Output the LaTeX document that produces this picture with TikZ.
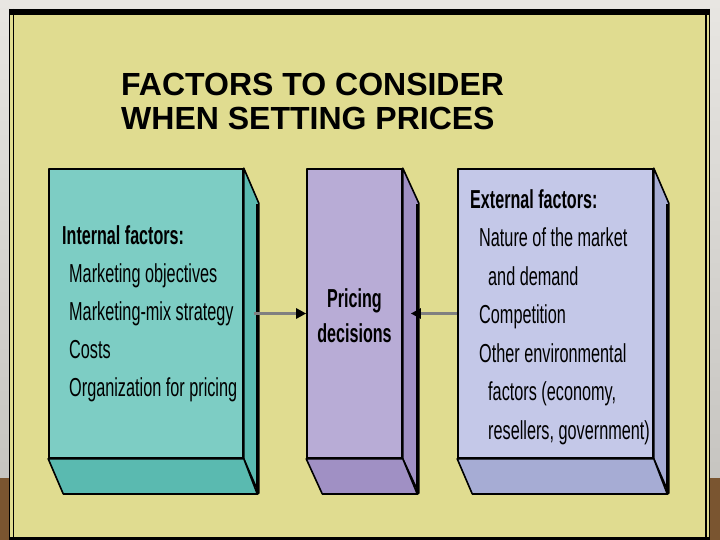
\documentclass[tikz,border=0pt]{standalone}
\usepackage{fontspec}
\setmainfont{Liberation Sans}
\newfontfamily\condfont[FakeStretch=0.625]{Liberation Sans}
\newfontfamily\condbold[FakeStretch=0.62]{Liberation Sans Bold}
\usetikzlibrary{arrows.meta}
\definecolor{panel}{HTML}{E0DC90}
\definecolor{bgtop}{HTML}{E8E6E2}
\definecolor{bgbot}{HTML}{C2C0BC}
\definecolor{wood}{HTML}{7A5530}
\definecolor{tealF}{HTML}{7DCDC4}
\definecolor{tealS}{HTML}{5ABAB0}
\definecolor{purpF}{HTML}{B8ACD6}
\definecolor{purpS}{HTML}{A090C4}
\definecolor{lavF}{HTML}{C4C8E8}
\definecolor{lavS}{HTML}{A6ACD4}
\definecolor{connGray}{HTML}{808080}
\tikzset{
  face/.style={draw=black, line width=1.6pt, line join=round},
  frontbox/.style={face, rectangle, inner sep=0pt},
  conn/.style={connGray, line width=3pt, -{Triangle[length=10pt,width=10pt,color=black]}},
  txt/.style={anchor=base west, inner sep=0pt, font=\condfont\fontsize{26}{30}\selectfont},
  hd/.style={anchor=base west, inner sep=0pt, font=\condbold\fontsize{26}{30}\selectfont},
  ctr/.style={anchor=base, inner sep=0pt, font=\condbold\fontsize{26}{30}\selectfont},
  title/.style={anchor=base west, inner sep=0pt, font=\bfseries\fontsize{32}{36}\selectfont}
}
\begin{document}
\begin{tikzpicture}[x=1pt,y=-1pt]
\useasboundingbox (0,0) rectangle (720,540);
% background
\shade[top color=bgtop, bottom color=bgbot] (0,0) rectangle (720,540);
\fill[wood] (0,478) rectangle (9,540);
\fill[wood] (707,478) rectangle (720,540);
% panel
\fill[panel] (10,9) rectangle (709,540);
\fill[black] (9,9) rectangle (710,15);
\draw[black, line width=1pt] (9.8,9) -- (9.8,540);
\draw[black, line width=1.4pt] (13.2,9) -- (13.2,540);
\draw[black, line width=2pt] (705.5,9) -- (705.5,540);
\draw[black, line width=1pt] (709.3,9) -- (709.3,540);
\draw[black, line width=2.5pt] (9,538.5) -- (710,538.5);

% title
\node[title] (t1) at (121,96) {FACTORS TO CONSIDER};
\node[title] (t2) at (121,130) {WHEN SETTING PRICES};

% internal box
\node[frontbox, fill=tealF, minimum width=194pt, minimum height=289pt] (internal) at (146,313.5) {};
\draw[face, fill=tealS] (internal.north east) -- ++(15,35) -- ++(0,290) -- (internal.south east) -- cycle;
\draw[face, fill=tealS] (internal.south west) -- ++(15,35) -- ++(194,0) -- (internal.south east) -- cycle;
\draw[black, line width=2.6pt, line join=round] ([yshift=-35pt,xshift=15pt]internal.south west) -- ++(194,0) -- ++(0,-290);

% pricing box
\node[frontbox, fill=purpF, minimum width=95pt, minimum height=289pt] (pricing) at (354.5,313.5) {};
\draw[face, fill=purpS] (pricing.north east) -- ++(16,35) -- ++(0,290) -- (pricing.south east) -- cycle;
\draw[face, fill=purpS] (pricing.south west) -- ++(16,35) -- ++(95,0) -- (pricing.south east) -- cycle;
\draw[black, line width=2.6pt, line join=round] ([yshift=-35pt,xshift=16pt]pricing.south west) -- ++(95,0) -- ++(0,-290);

% external box
\node[frontbox, fill=lavF, minimum width=195pt, minimum height=289pt] (external) at (555.5,313.5) {};
\draw[face, fill=lavS] (external.north east) -- ++(15,35) -- ++(0,290) -- (external.south east) -- cycle;
\draw[face, fill=lavS] (external.south west) -- ++(15,35) -- ++(195,0) -- (external.south east) -- cycle;
\draw[black, line width=2.6pt, line join=round] ([yshift=-35pt,xshift=15pt]external.south west) -- ++(195,0) -- ++(0,-290);

% connectors
\draw[conn] ([xshift=10pt]internal.east) -- (pricing.west);
\draw[conn] (external.west) -- ([xshift=8pt]pricing.east);

% internal text
\node[hd] (ih) at (62,244) {Internal factors:};
\node[txt] (i1) at (69,282) {Marketing objectives};
\node[txt] (i2) at (69,320) {Marketing-mix strategy};
\node[txt] (i3) at (69,358) {Costs};
\node[txt] (i4) at (69,396) {Organization for pricing};

% pricing text
\node[ctr] (p1) at (354.5,307) {Pricing};
\node[ctr] (p2) at (354.5,342) {decisions};

% external text
\node[hd] (eh) at (470,208) {External factors:};
\node[txt] (e1) at (479,246) {Nature of the market};
\node[txt] (e2) at (488,285) {and demand};
\node[txt] (e3) at (479,323) {Competition};
\node[txt] (e4) at (479,362) {Other environmental};
\node[txt] (e5) at (488,400) {factors (economy,};
\node[txt] (e6) at (488,439) {resellers, government)};
\end{tikzpicture}
\end{document}
